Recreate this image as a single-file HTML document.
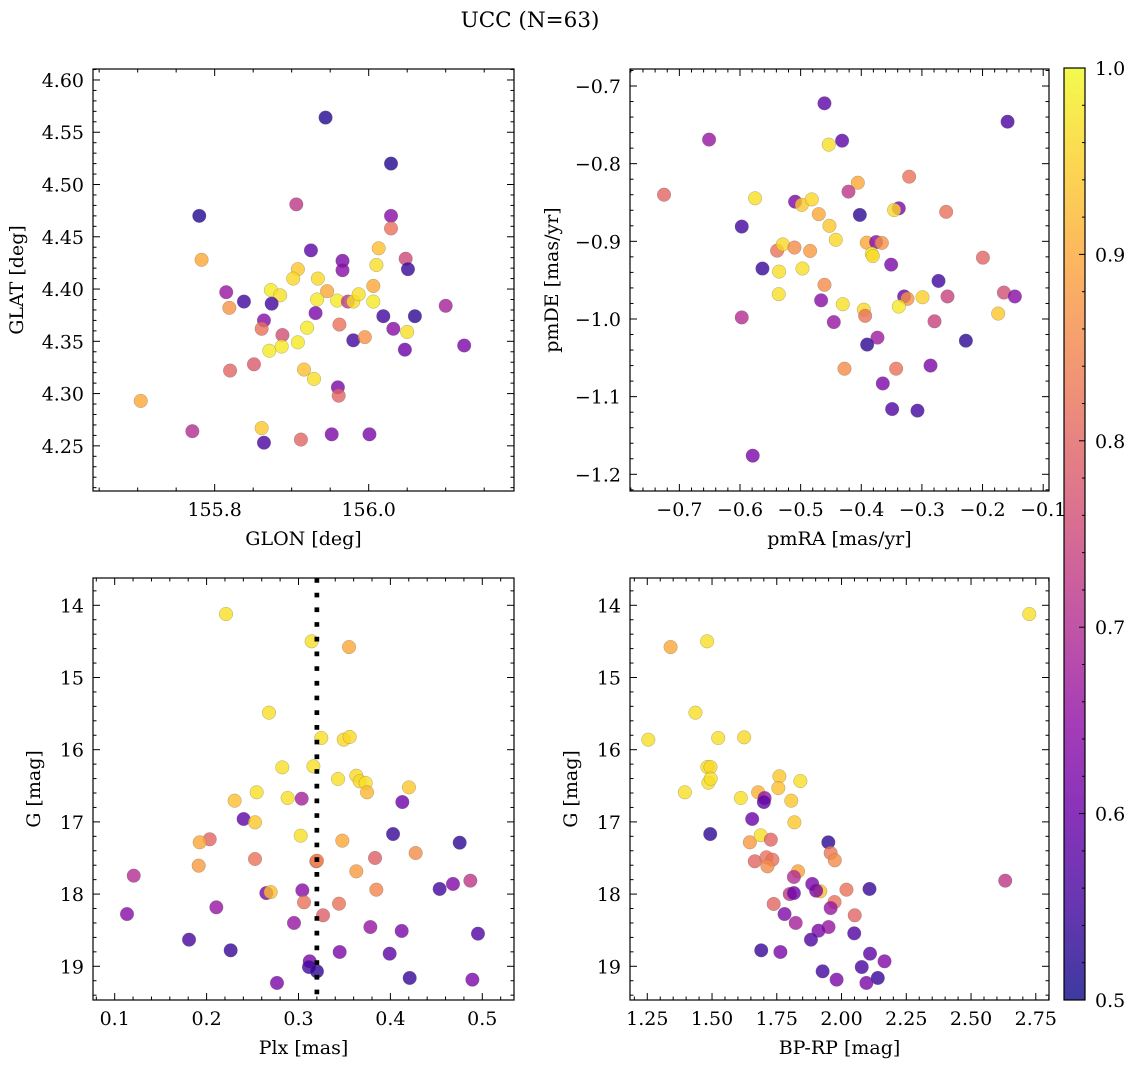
<!DOCTYPE html>
<html><head><meta charset="utf-8">
<style>
html,body{margin:0;padding:0;background:#fff;}
svg{display:block;font-family:"DejaVu Serif","Liberation Serif",serif;}
</style></head>
<body>
<svg id="fig" width="1136" height="1068" viewBox="0 0 1136 1068" xmlns="http://www.w3.org/2000/svg">
<text x="530" y="27" font-size="21.5" text-anchor="middle">UCC (N=63)</text>
<defs>
<linearGradient id="cbgrad" x1="0" y1="1" x2="0" y2="0">
<stop offset="0" stop-color="#0d0887"/><stop offset="0.1" stop-color="#41049d"/><stop offset="0.2" stop-color="#6a00a8"/><stop offset="0.3" stop-color="#8f0da4"/><stop offset="0.4" stop-color="#b12a90"/><stop offset="0.5" stop-color="#cc4778"/><stop offset="0.6" stop-color="#e16462"/><stop offset="0.7" stop-color="#f2844b"/><stop offset="0.8" stop-color="#fca636"/><stop offset="0.9" stop-color="#fcce25"/><stop offset="1" stop-color="#f0f921"/>
</linearGradient>
</defs>
</svg>
<script>
// ---- Panel 1: GLON vs GLAT ----
const glon = [155.944,156.029,155.780,155.906,156.029,156.029,155.783,155.925,155.966,155.966,156.013,156.010,156.048,156.051,155.908,155.902,155.934,156.006,155.946,155.873,155.885,155.815,155.838,155.874,155.933,155.959,155.973,155.980,155.987,156.006,156.100,155.819,155.931,156.019,156.060,155.864,155.861,155.920,155.962,156.032,156.050,155.888,155.980,155.995,156.124,156.047,155.871,155.887,155.908,155.820,155.851,155.916,155.929,155.960,155.961,155.704,155.771,155.861,155.864,155.912,155.952,156.001];
const glat = [4.564,4.520,4.470,4.481,4.470,4.458,4.428,4.437,4.427,4.418,4.439,4.423,4.429,4.419,4.419,4.410,4.410,4.403,4.398,4.399,4.394,4.397,4.388,4.386,4.390,4.389,4.388,4.388,4.395,4.388,4.384,4.382,4.377,4.374,4.374,4.370,4.362,4.363,4.366,4.362,4.359,4.356,4.351,4.354,4.346,4.342,4.341,4.345,4.349,4.322,4.328,4.323,4.314,4.306,4.298,4.293,4.264,4.267,4.253,4.256,4.261,4.261];
const prob1 = [0.52,0.52,0.52,0.72,0.64,0.82,0.9,0.58,0.62,0.64,0.93,0.97,0.75,0.54,0.94,0.96,0.96,0.9,0.9,0.98,0.97,0.66,0.55,0.55,0.98,0.98,0.72,0.97,0.97,0.98,0.68,0.87,0.62,0.55,0.53,0.64,0.82,0.98,0.82,0.64,0.97,0.76,0.55,0.87,0.62,0.6,0.98,0.98,0.98,0.8,0.78,0.93,0.97,0.62,0.8,0.9,0.7,0.94,0.56,0.8,0.62,0.62];
// ---- Panel 2: pmRA vs pmDE ----
const pmra = [-0.4607,-0.1587,-0.651,-0.4536,-0.4316,-0.7253,-0.3210,-0.4057,-0.4211,-0.5751,-0.5091,-0.4981,-0.4816,-0.3381,-0.3458,-0.2600,-0.4701,-0.4024,-0.5971,-0.4525,-0.4420,-0.5388,-0.5295,-0.5102,-0.4844,-0.3909,-0.3755,-0.3661,-0.3826,-0.3810,-0.1994,-0.5630,-0.5355,-0.4970,-0.3507,-0.2726,-0.4607,-0.5361,-0.4662,-0.3293,-0.3238,-0.2990,-0.2578,-0.1648,-0.1467,-0.4305,-0.3381,-0.3958,-0.3936,-0.1742,-0.5971,-0.4453,-0.2792,-0.3733,-0.3903,-0.2275,-0.4277,-0.3425,-0.2858,-0.3645,-0.3491,-0.3073,-0.5790];
const pmde = [-0.7223,-0.746,-0.769,-0.7755,-0.7704,-0.840,-0.8167,-0.8245,-0.836,-0.8446,-0.849,-0.853,-0.846,-0.8575,-0.8597,-0.862,-0.865,-0.866,-0.881,-0.880,-0.898,-0.912,-0.904,-0.908,-0.9124,-0.9017,-0.901,-0.902,-0.916,-0.919,-0.921,-0.935,-0.939,-0.935,-0.930,-0.951,-0.956,-0.968,-0.976,-0.971,-0.974,-0.972,-0.971,-0.966,-0.971,-0.981,-0.984,-0.988,-0.996,-0.993,-0.998,-1.004,-1.003,-1.024,-1.033,-1.028,-1.064,-1.064,-1.060,-1.083,-1.116,-1.118,-1.176];
const prob2 = [0.58,0.56,0.66,0.97,0.58,0.8,0.82,0.9,0.72,0.97,0.62,0.94,0.96,0.62,0.96,0.82,0.9,0.53,0.55,0.94,0.96,0.82,0.96,0.86,0.88,0.9,0.64,0.87,0.98,0.96,0.8,0.54,0.97,0.97,0.62,0.55,0.86,0.97,0.64,0.6,0.87,0.95,0.74,0.76,0.64,0.97,0.98,0.96,0.82,0.94,0.7,0.66,0.74,0.67,0.53,0.53,0.86,0.82,0.62,0.62,0.57,0.55,0.62];
// ---- Panel 3: Plx vs G ----
const plx = [0.2211,0.3143,0.3550,0.2679,0.3248,0.3492,0.3557,0.2824,0.3162,0.3430,0.3629,0.3666,0.3731,0.3746,0.4202,0.2545,0.2305,0.2882,0.3035,0.4130,0.2403,0.2527,0.3024,0.3477,0.4029,0.4754,0.2034,0.1925,0.1914,0.2527,0.3194,0.3201,0.3833,0.4275,0.3629,0.1207,0.4536,0.4681,0.4870,0.2650,0.2697,0.3042,0.3847,0.3060,0.3441,0.3267,0.2106,0.1134,0.2951,0.3782,0.4123,0.4953,0.1809,0.2262,0.3448,0.3992,0.3122,0.3114,0.3201,0.4210,0.2766,0.4892];
const gmag3 = [14.121,14.499,14.578,15.487,15.838,15.861,15.824,16.245,16.230,16.406,16.360,16.438,16.461,16.590,16.522,16.590,16.706,16.669,16.678,16.725,16.960,17.006,17.191,17.260,17.168,17.288,17.241,17.283,17.606,17.514,17.546,17.537,17.500,17.431,17.685,17.745,17.929,17.860,17.814,17.986,17.972,17.948,17.939,18.114,18.133,18.294,18.183,18.276,18.400,18.456,18.511,18.548,18.631,18.779,18.802,18.825,18.931,19.010,19.070,19.162,19.231,19.185];
const prob3 = [0.97,0.97,0.9,0.97,0.97,0.96,0.96,0.97,0.97,0.97,0.96,0.96,0.97,0.92,0.94,0.97,0.93,0.97,0.68,0.6,0.58,0.94,0.97,0.9,0.54,0.53,0.8,0.9,0.88,0.82,0.8,0.85,0.79,0.86,0.88,0.7,0.55,0.63,0.72,0.62,0.93,0.64,0.85,0.82,0.82,0.79,0.66,0.64,0.66,0.66,0.62,0.57,0.56,0.54,0.62,0.58,0.62,0.55,0.53,0.54,0.62,0.62];
const plxMedian = 0.32;
// ---- Panel 4: BP-RP vs G ----
const bprp = [2.725,1.340,1.481,1.436,1.254,1.524,1.624,1.482,1.494,1.486,1.495,1.395,1.611,1.678,1.703,1.700,1.760,1.756,1.841,1.806,1.655,1.818,1.493,1.646,1.688,1.727,1.665,1.710,1.733,1.714,1.949,1.958,1.974,1.832,1.816,1.887,2.108,2.632,1.800,1.816,1.918,1.902,2.019,1.738,1.973,1.958,2.051,1.780,1.823,1.950,1.911,2.049,1.882,1.690,1.764,2.110,2.166,2.078,1.927,2.140,1.981,2.096];
const gmag4 = [14.121,14.578,14.499,15.487,15.861,15.838,15.829,16.240,16.240,16.457,16.401,16.590,16.669,16.590,16.669,16.725,16.369,16.531,16.434,16.706,16.960,17.006,17.168,17.283,17.186,17.246,17.546,17.491,17.523,17.616,17.283,17.431,17.532,17.685,17.763,17.860,17.929,17.814,17.999,17.986,17.962,17.953,17.939,18.137,18.110,18.193,18.294,18.276,18.400,18.456,18.507,18.544,18.631,18.779,18.802,18.825,18.931,19.010,19.070,19.162,19.185,19.231];
const prob4 = [0.97,0.9,0.97,0.97,0.97,0.97,0.96,0.97,0.96,0.97,0.97,0.97,0.97,0.91,0.66,0.58,0.94,0.93,0.97,0.94,0.6,0.94,0.53,0.88,0.97,0.8,0.8,0.82,0.82,0.86,0.53,0.83,0.86,0.89,0.7,0.62,0.54,0.72,0.72,0.6,0.93,0.62,0.82,0.8,0.82,0.66,0.8,0.63,0.68,0.66,0.62,0.57,0.57,0.54,0.62,0.58,0.63,0.56,0.55,0.54,0.62,0.62];
// ---- tick labels ----
const ticks1x = [155.8, 156.0];
const ticks1y = [4.25,4.30,4.35,4.40,4.45,4.50,4.55,4.60];
const ticks2x = [-0.7,-0.6,-0.5,-0.4,-0.3,-0.2,-0.1];
const ticks2y = [-1.2,-1.1,-1.0,-0.9,-0.8,-0.7];
const ticks3x = [0.1,0.2,0.3,0.4,0.5];
const ticksG = [14,15,16,17,18,19];
const ticks4x = [1.25,1.50,1.75,2.00,2.25,2.50,2.75];
const ticksCb = [0.5,0.6,0.7,0.8,0.9,1.0];

const FS = 19;
const NS = "http://www.w3.org/2000/svg";
const svg = document.getElementById('fig');
const stops = [[13,8,135],[65,4,157],[106,0,168],[143,13,164],[177,42,144],[204,71,120],[225,100,98],[242,132,75],[252,166,54],[252,206,37],[240,249,33]];
function plasma(t){
  t = Math.max(0, Math.min(1, t));
  const f = t*10, i = Math.min(9, Math.floor(f)), r = f - i;
  const a = stops[i], b = stops[i+1];
  return 'rgb(' + [0,1,2].map(k => Math.round(a[k]+(b[k]-a[k])*r)).join(',') + ')';
}
function mk(tag, attrs, parent){
  const e = document.createElementNS(NS, tag);
  for (const k in attrs) e.setAttribute(k, attrs[k]);
  (parent || svg).appendChild(e);
  return e;
}
function fmt(v, d){ const s = v.toFixed(d); return s.replace('-', '\u2212'); }

function panel(cfg){
  const g = mk('g', {});
  
  
  const L = cfg.box[0], T = cfg.box[1], R = cfg.box[2], B = cfg.box[3];
  const sx = v => L + (v - cfg.xr[0]) / (cfg.xr[1] - cfg.xr[0]) * (R - L);
  const sy = v => T + (cfg.yr[1] - v) / (cfg.yr[1] - cfg.yr[0]) * (B - T);
  const tg = mk('g', {stroke:'#000','stroke-width':1}, g);
  
  
  const eps = 1e-9;
  function ticksAlong(axis, min, max, minor, maj){
    const start = Math.ceil(min/minor - eps);
    for (let k = start; k*minor <= max + eps; k++){
      const v = k*minor;
      const isMaj = Math.abs(v/maj - Math.round(v/maj)) < 1e-6;
      const len = isMaj ? 7 : 3.5;
      if (axis === 'x'){
        const x = sx(v); if (x < L-0.5 || x > R+0.5) continue;
        mk('line', {x1:x, y1:B, x2:x, y2:B-len}, tg);
        mk('line', {x1:x, y1:T, x2:x, y2:T+len}, tg);
      } else {
        const y = sy(v); if (y < T-0.5 || y > B+0.5) continue;
        mk('line', {x1:L, y1:y, x2:L+len, y2:y}, tg);
        mk('line', {x1:R, y1:y, x2:R-len, y2:y}, tg);
      }
    }
  }
  ticksAlong('x', cfg.xr[0], cfg.xr[1], cfg.minX, cfg.majX);
  ticksAlong('y', cfg.yr[0], cfg.yr[1], cfg.minY, cfg.majY);
  cfg.tx.forEach(v => {
    const t = mk('text', {x:sx(v), y:B+25, 'font-size':FS, 'text-anchor':'middle'}, g);
    
    
    t.textContent = fmt(v, cfg.dx);
  });
  cfg.ty.forEach(v => {
    const t = mk('text', {x:L-9, y:sy(v)+7, 'font-size':FS, 'text-anchor':'end'}, g);
    
    
    t.textContent = cfg.negY ? fmt(-v, cfg.dy) : fmt(v, cfg.dy);
  });
  const xt = mk('text', {x:(L+R)/2, y:B+54, 'font-size':FS, 'text-anchor':'middle'}, g);
  
  
  xt.textContent = cfg.xl;
  const yx = cfg.ylx, yy = (T+B)/2;
  const yt = mk('text', {x:yx, y:yy, 'font-size':FS, 'text-anchor':'middle', transform:'rotate(-90 '+yx+' '+yy+')'}, g);
  
  
  yt.textContent = cfg.yl;
  const cid = 'clip-' + cfg.name;
  const cp = mk('clipPath', {id:cid}, g);
  mk('rect', {x:L, y:T, width:R-L, height:B-T}, cp);
  const pg = mk('g', {'clip-path':'url(#'+cid+')'}, g);
  
  
  const n = Math.min(cfg.xs.length, cfg.ys.length, cfg.cs.length);
  for (let i = 0; i < n; i++){
    const c = mk('circle', {cx:sx(cfg.xs[i]), cy:sy(cfg.ys[i]), r:6.8, fill:plasma((cfg.cs[i]-0.5)/0.5), 'fill-opacity':0.8, stroke:'#666', 'stroke-opacity':0.5, 'stroke-width':0.5}, pg);
    
    
  }
  if (cfg.vline !== undefined){
    const vl = mk('line', {x1:sx(cfg.vline), x2:sx(cfg.vline), y1:T, y2:B, stroke:'#000', 'stroke-width':4.7, 'stroke-dasharray':'4.7 10'}, pg);
    
    
  }
  const fr = mk('rect', {x:L, y:T, width:R-L, height:B-T, fill:'none', stroke:'#000', 'stroke-width':1.2}, g);
  
  
}

panel({name:'glon-glat-panel', box:[93,69,514,491], xr:[155.642,156.1887], yr:[4.2068,4.6105],
  xs:glon, ys:glat, cs:prob1, tx:ticks1x, ty:ticks1y, dx:1, dy:2, minX:0.05, minY:0.01, majX:0.2, majY:0.05,
  xl:'GLON [deg]', yl:'GLAT [deg]', ylx:23});
panel({name:'pm-panel', box:[630,69,1049,491], xr:[-0.7814,-0.0904], yr:[-1.2215,-0.6781],
  xs:pmra, ys:pmde, cs:prob2, tx:ticks2x, ty:ticks2y, dx:1, dy:1, minX:0.02, minY:0.02, majX:0.1, majY:0.1,
  xl:'pmRA [mas/yr]', yl:'pmDE [mas/yr]', ylx:558});
panel({name:'plx-g-panel', box:[93,578,514,1000], xr:[0.0764,0.5345], yr:[-19.467,-13.622],
  xs:plx, ys:gmag3.map(v=>-v), cs:prob3, tx:ticks3x, ty:ticksG.map(v=>-v), negY:true, dx:1, dy:0, minX:0.02, minY:0.2, majX:0.1, majY:1,
  xl:'Plx [mas]', yl:'G [mag]', ylx:40, vline:plxMedian});
panel({name:'cmd-panel', box:[630,578,1049,1000], xr:[1.1833,2.801], yr:[-19.467,-13.622],
  xs:bprp, ys:gmag4.map(v=>-v), cs:prob4, tx:ticks4x, ty:ticksG.map(v=>-v), negY:true, dx:2, dy:0, minX:0.05, minY:0.2, majX:0.25, majY:1,
  xl:'BP-RP [mag]', yl:'G [mag]', ylx:577});

const cbL = 1064, cbR = 1085, cbT = 68, cbB = 1000;
const cb = mk('g', {});


mk('rect', {x:cbL, y:cbT, width:cbR-cbL, height:cbB-cbT, fill:'url(#cbgrad)', 'fill-opacity':0.8}, cb);
mk('rect', {x:cbL, y:cbT, width:cbR-cbL, height:cbB-cbT, fill:'none', stroke:'#000', 'stroke-width':1.2}, cb);
const cy = v => cbB - (v - 0.5) / 0.5 * (cbB - cbT);
for (let k = 25; k <= 50; k++){
  const v = k*0.02, y = cy(v);
  const maj = Math.abs(v*10 - Math.round(v*10)) < 1e-6;
  mk('line', {x1:cbR, x2:cbR-(maj?6:3), y1:y, y2:y, stroke:'#000', 'stroke-width':1}, cb);
}
ticksCb.forEach(v => {
  const t = mk('text', {x:1095, y:cy(v)+7, 'font-size':FS}, cb);
  
  
  t.textContent = v.toFixed(1);
});
</script>
</body></html>
